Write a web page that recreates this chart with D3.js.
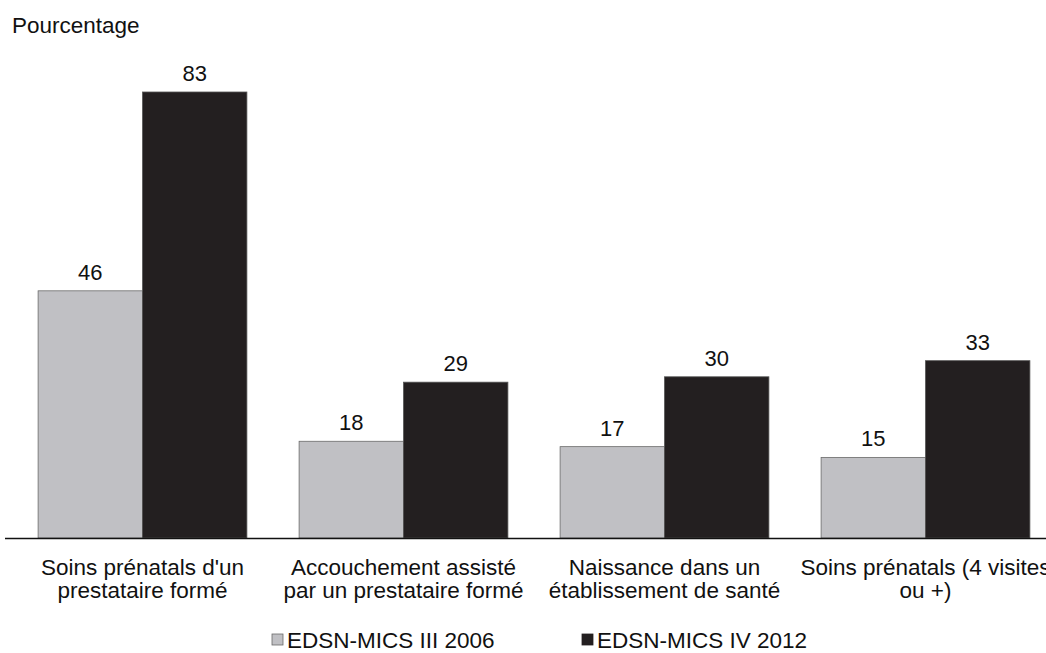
<!DOCTYPE html>
<html>
<head>
<meta charset="utf-8">
<script src="https://cdn.jsdelivr.net/npm/d3@7"></script>
<style>
  body { margin: 0; background: #fff; overflow: hidden; }
  text { font-family: "Liberation Sans", Arial, sans-serif; fill: #111; }
</style>
</head>
<body>
<div id="chart"></div>
<script>
var categories = [
  ["Soins prénatals d'un", "prestataire formé"],
  ["Accouchement assisté", "par un prestataire formé"],
  ["Naissance dans un", "établissement de santé"],
  ["Soins prénatals (4 visites", "ou +)"]
];
var seriesNames = ["EDSN-MICS III 2006", "EDSN-MICS IV 2012"];
var values2006 = [46, 18, 17, 15];
var values2012 = [83, 29, 30, 33];

var svgWidth = 1046;
var svgHeight = 653;
var baseline = 538;

var svg = d3.select("#chart")
  .append("svg")
  .attr("width", svgWidth)
  .attr("height", svgHeight);

var keys = categories.map(function(d, i) { return "c" + i; });

var x0 = d3.scaleBand()
  .domain(keys)
  .range([12, 1056])
  .paddingInner(0.2)
  .paddingOuter(0.1);

var x1 = d3.scaleBand()
  .domain([0, 1])
  .range([0, x0.bandwidth()]);

var y = d3.scaleLinear()
  .domain([0, 83])
  .range([baseline, 92]);

var colors = ["#c0c0c4", "#231f20"];
var series = [values2006, values2012];

// y axis title
svg.append("text")
  .attr("x", 12)
  .attr("y", 33)
  .attr("font-size", "22.5px")
  .text("Pourcentage");

// bars
series.forEach(function(vals, s) {
  var g = svg.append("g");
  g.selectAll("rect")
    .data(vals)
    .enter()
    .append("rect")
    .attr("x", function(d, i) { return x0(keys[i]) + x1(s); })
    .attr("y", function(d) { return y(d); })
    .attr("width", x1.bandwidth())
    .attr("height", function(d) { return baseline - y(d); })
    .attr("fill", colors[s])
    .attr("stroke", s === 0 ? "#6a6a6a" : "#555")
    .attr("stroke-width", 0.8);

  g.selectAll("text")
    .data(vals)
    .enter()
    .append("text")
    .attr("x", function(d, i) { return x0(keys[i]) + x1(s) + x1.bandwidth() / 2; })
    .attr("y", function(d) { return y(d) - 11; })
    .attr("text-anchor", "middle")
    .attr("font-size", "22px")
    .text(function(d) { return d; });
});

// x axis line
svg.append("line")
  .attr("x1", 5)
  .attr("x2", svgWidth)
  .attr("y1", baseline + 0.5)
  .attr("y2", baseline + 0.5)
  .attr("stroke", "#111")
  .attr("stroke-width", 1.3);

// category labels
var labels = svg.append("g")
  .selectAll("text")
  .data(categories)
  .enter()
  .append("text")
  .attr("text-anchor", "middle")
  .attr("font-size", "22.5px")
  .attr("x", function(d, i) { return x0(keys[i]) + x0.bandwidth() / 2; })
  .attr("y", 575);

labels.selectAll("tspan")
  .data(function(d) { return d; })
  .enter()
  .append("tspan")
  .attr("x", function() { return d3.select(this.parentNode).attr("x"); })
  .attr("dy", function(d, i) { return i === 0 ? 0 : 23; })
  .text(function(d) { return d; });

// legend
var legendX = [272, 582];
var legend = svg.append("g")
  .selectAll("g")
  .data(seriesNames)
  .enter()
  .append("g")
  .attr("transform", function(d, i) { return "translate(" + legendX[i] + ",634)"; });

legend.append("rect")
  .attr("width", 11)
  .attr("height", 11)
  .attr("fill", function(d, i) { return colors[i]; })
  .attr("stroke", function(d, i) { return i === 0 ? "#6a6a6a" : "#231f20"; })
  .attr("stroke-width", 0.8);

legend.append("text")
  .attr("x", 15)
  .attr("y", 14)
  .attr("font-size", "22.5px")
  .text(function(d) { return d; });
</script>
</body>
</html>
